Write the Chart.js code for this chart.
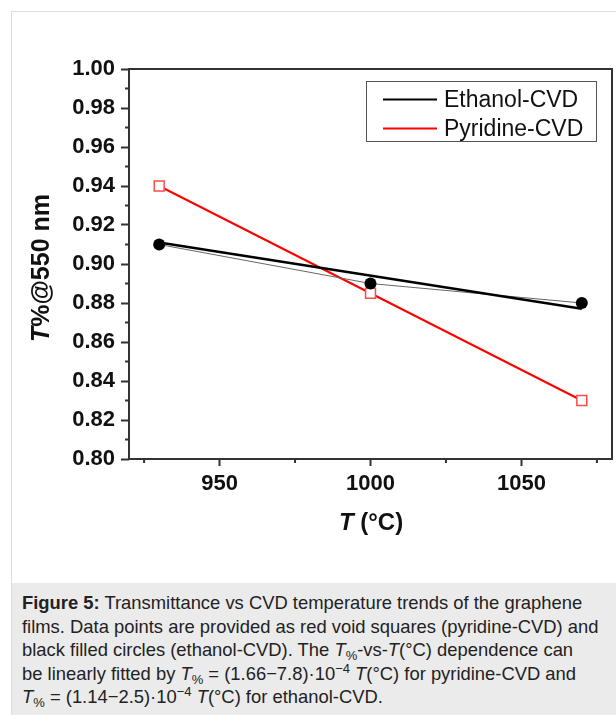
<!DOCTYPE html>
<html>
<head>
<meta charset="utf-8">
<script src="https://cdn.jsdelivr.net/npm/chart.js@4.4.0/dist/chart.umd.min.js"></script>
<style>
  body { margin: 0; background: #fff; width: 616px; height: 715px; overflow: hidden; position: relative;
         font-family: "Liberation Sans", Arial, sans-serif; }
  #frame { position: absolute; left: 11px; top: 11px; width: 620px; height: 720px;
           border-left: 1px solid #ddd; border-top: 1px solid #ddd; }
  #chart { position: absolute; left: 0; top: 0; }
  #caption { position: absolute; left: 12px; top: 583px; width: 604px; height: 132px; background: #ebebeb;
             box-sizing: border-box; padding: 8px 0 0 10px; font-size: 18.4px; line-height: 23.5px;
             color: #222; white-space: nowrap; }
  #caption sub, #caption sup { font-size: 13px; line-height: 0; position: relative; vertical-align: baseline; }
  #caption sub { top: 4px; }
  #caption sup { top: -7px; }
</style>
</head>
<body>
<div id="frame"></div>
<canvas id="chart" width="616" height="583"></canvas>
<div id="caption">
  <b>Figure 5:</b> Transmittance vs CVD temperature trends of the graphene<br>
  films. Data points are provided as red void squares (pyridine-CVD) and<br>
  black filled circles (ethanol-CVD). The <i>T</i><sub>%</sub>-vs-<i>T</i>(°C) dependence can<br>
  be linearly fitted by <i>T</i><sub>%</sub> = (1.66−7.8)·10<sup>−4</sup> <i>T</i>(°C) for pyridine-CVD and<br>
  <i>T</i><sub>%</sub> = (1.14−2.5)·10<sup>−4</sup> <i>T</i>(°C) for ethanol-CVD.
</div>
<script>
// data
const temps = [930, 1000, 1070];
const ethanolValues = [0.91, 0.89, 0.88];
const pyridineValues = [0.94, 0.885, 0.83];
const ethanolFitTemps = [930, 1070];
const ethanolFitValues = [0.911, 0.877];

const xTicks = [950, 1000, 1050];
const xMinorTicks = [925, 975, 1025, 1075];
const yTicks = [0.80, 0.82, 0.84, 0.86, 0.88, 0.90, 0.92, 0.94, 0.96, 0.98, 1.00];
const yMinorTicks = [0.81, 0.83, 0.85, 0.87, 0.89, 0.91, 0.93, 0.95, 0.97, 0.99];

const FONT = '"Liberation Sans", Arial, sans-serif';
const AXIS = '#333';

const toPoints = (xs, ys) => xs.map((x, i) => ({ x: x, y: ys[i] }));

// box around plot + minor ticks
const framePlugin = {
  id: 'framePlugin',
  afterDraw(chart) {
    const { ctx, chartArea: a } = chart;
    const xs = chart.scales.x, ys = chart.scales.y;
    ctx.save();
    ctx.strokeStyle = AXIS;
    ctx.lineWidth = 2;
    ctx.strokeRect(a.left, a.top, a.right - a.left, a.bottom - a.top);
    ctx.beginPath();
    yMinorTicks.forEach(v => {
      const p = ys.getPixelForValue(v);
      ctx.moveTo(a.left - 4, p);
      ctx.lineTo(a.left, p);
    });
    xMinorTicks.forEach(v => {
      const p = xs.getPixelForValue(v);
      ctx.moveTo(p, a.bottom);
      ctx.lineTo(p, a.bottom + 4);
    });
    ctx.stroke();
    ctx.restore();
  }
};

// axis titles with italic T
const titlePlugin = {
  id: 'titlePlugin',
  afterDraw(chart) {
    const { ctx, chartArea: a } = chart;
    const drawParts = (parts, cx, cy) => {
      let w = 0;
      parts.forEach(p => { ctx.font = p[1]; w += ctx.measureText(p[0]).width; });
      let x = cx - w / 2;
      parts.forEach(p => {
        ctx.font = p[1];
        ctx.fillText(p[0], x, cy);
        x += ctx.measureText(p[0]).width;
      });
    };
    ctx.save();
    ctx.fillStyle = '#111';
    ctx.textBaseline = 'middle';
    ctx.textAlign = 'left';
    drawParts([['T', 'italic bold 24px ' + FONT], [' (°C)', 'bold 24px ' + FONT]], 371, 523);
    ctx.translate(42, 268);
    ctx.rotate(-Math.PI / 2);
    drawParts([['T', 'italic bold 25px ' + FONT], ['%@550 nm', 'bold 25px ' + FONT]], 0, 0);
    ctx.restore();
  }
};

// legend box inside plot
const legendPlugin = {
  id: 'legendPlugin',
  afterDraw(chart) {
    const ctx = chart.ctx;
    const items = chart.data.datasets.filter(d => d.inLegend);
    ctx.save();
    ctx.strokeStyle = '#555';
    ctx.lineWidth = 1;
    ctx.strokeRect(366.5, 81.5, 230, 60);
    ctx.font = '23px ' + FONT;
    ctx.textBaseline = 'middle';
    items.forEach((d, i) => {
      const y = 99.5 + i * 29;
      ctx.strokeStyle = d.borderColor;
      ctx.lineWidth = 2;
      ctx.beginPath();
      ctx.moveTo(383, y);
      ctx.lineTo(437, y);
      ctx.stroke();
      ctx.fillStyle = '#111';
      ctx.fillText(d.label, 444, y + 1);
    });
    ctx.restore();
  }
};

new Chart(document.getElementById('chart'), {
  type: 'line',
  data: {
    datasets: [
      {
        label: 'Ethanol-CVD',
        inLegend: true,
        data: toPoints(ethanolFitTemps, ethanolFitValues),
        borderColor: '#000',
        borderWidth: 2.5,
        pointRadius: 0
      },
      {
        label: 'Ethanol data',
        data: toPoints(temps, ethanolValues),
        borderColor: '#666',
        borderWidth: 1,
        pointStyle: 'circle',
        pointRadius: 6,
        pointBackgroundColor: '#000',
        pointBorderColor: '#000',
        pointBorderWidth: 0
      },
      {
        label: 'Pyridine-CVD',
        inLegend: true,
        data: toPoints(temps, pyridineValues),
        borderColor: '#ff0000',
        borderWidth: 2,
        pointStyle: 'rect',
        pointRadius: 7,
        pointBackgroundColor: '#fff',
        pointBorderColor: '#ff4a4a',
        pointBorderWidth: 1.5
      }
    ]
  },
  options: {
    responsive: false,
    animation: false,
    layout: { autoPadding: false, padding: { top: 69, right: 4, left: 0, bottom: 0 } },
    plugins: { legend: { display: false }, tooltip: { enabled: false } },
    scales: {
      x: {
        type: 'linear',
        min: 920,
        max: 1080,
        afterBuildTicks: s => { s.ticks = xTicks.map(v => ({ value: v })); },
        afterFit: s => { s.height = 124; s.paddingLeft = 0; s.paddingRight = 0; },
        ticks: { font: { family: FONT, size: 22, weight: 'bold' }, color: '#111', padding: 5, maxRotation: 0,
                 callback: v => String(v) },
        grid: { drawOnChartArea: false, tickLength: 7, tickWidth: 2, tickColor: AXIS },
        border: { display: false }
      },
      y: {
        type: 'linear',
        min: 0.8,
        max: 1.0,
        afterBuildTicks: s => { s.ticks = yTicks.map(v => ({ value: v })); },
        afterFit: s => { s.width = 129; s.paddingTop = 0; s.paddingBottom = 0; },
        ticks: { font: { family: FONT, size: 22, weight: 'bold' }, color: '#111', padding: 6,
                 callback: v => v.toFixed(2) },
        grid: { drawOnChartArea: false, tickLength: 8, tickWidth: 2, tickColor: AXIS },
        border: { display: false }
      }
    }
  },
  plugins: [framePlugin, titlePlugin, legendPlugin]
});
</script>
</body>
</html>
